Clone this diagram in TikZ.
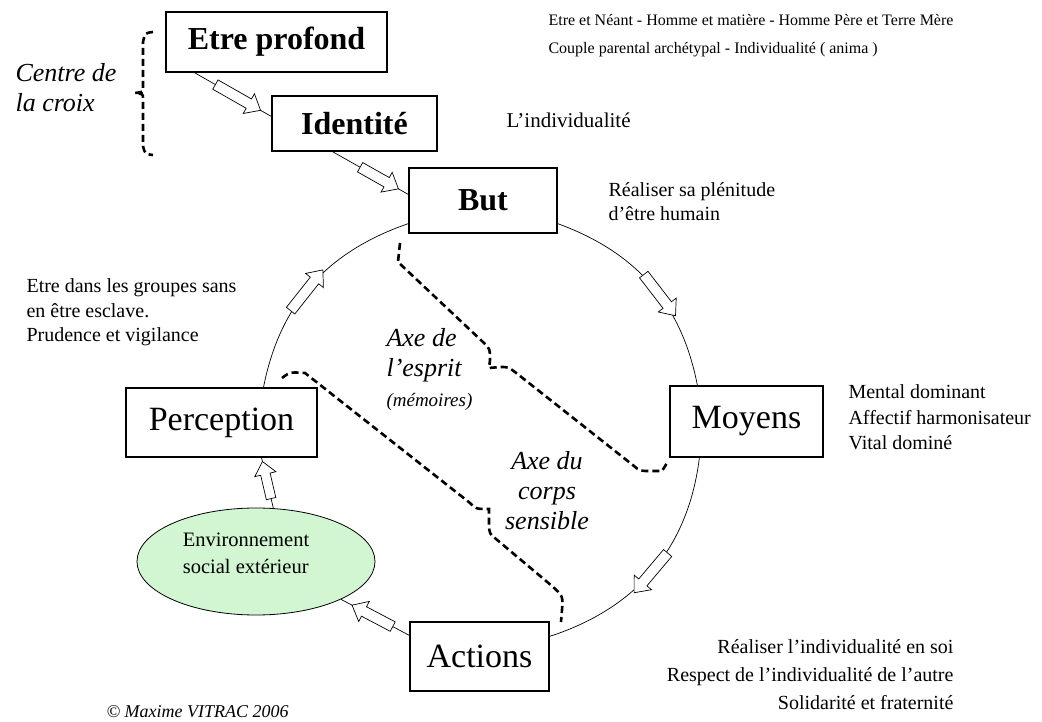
\documentclass[tikz,border=0pt]{standalone}
\usepackage{fontspec}
\setmainfont{Liberation Serif}
\usetikzlibrary{shapes.geometric, shapes.arrows}
\definecolor{vertpale}{RGB}{210,246,210}
\begin{document}
\begin{tikzpicture}[x=1pt, y=1pt,
		boite/.style = {draw, line width=1.2pt, fill=white, inner sep=0pt},
		titre/.style = {boite, font=\fontsize{32}{36}\selectfont\bfseries},
		titrebis/.style = {boite, font=\fontsize{34}{38}\selectfont},
		lien/.style = {line width=0.7pt},
		fleche/.style = {single arrow, draw, line width=0.7pt, fill=white, inner xsep=0pt, inner ysep=5pt, minimum height=52pt, single arrow head extend=6pt, single arrow tip angle=80, sloped, allow upside down},
		accolade/.style = {line width=2.6pt, dash pattern=on 7pt off 4pt},
		note/.style = {align=left, font=\fontsize{20}{25}\selectfont},
		axe/.style = {font=\fontsize{26}{30}\selectfont\itshape}]
		\useasboundingbox (0,0) rectangle (1042,721);
		% boites
		\node[titre, minimum width=221pt, minimum height=60pt] (etre) at (276.5,679) {Etre profond};
		\node[titre, minimum width=165pt, minimum height=55pt] (identite) at (354.5,597.5) {Identité};
		\node[titre, minimum width=148pt, minimum height=65pt] (but) at (483,520.5) {But};
		\node[titrebis, minimum width=153pt, minimum height=71pt] (moyens) at (746.5,299.5) {Moyens};
		\node[titrebis, minimum width=191pt, minimum height=69pt] (perception) at (221.5,298.5) {Perception};
		\node[titrebis, minimum width=139pt, minimum height=69pt] (actions) at (479.5,64.5) {Actions};
		\node[ellipse, draw, line width=0.8pt, fill=vertpale, minimum width=238pt, minimum height=107pt] (env) at (256,159.5) {};
		\node[align=left, font=\fontsize{20.5}{27}\selectfont] (envtexte) at (246,168) {Environnement\\social extérieur};
		% liens et fleches
		\draw[lien] ([xshift=29pt]etre.south west) -- node[fleche, pos=0.53] {} ([yshift=7pt]identite.west);
		\draw[lien] ([xshift=61pt]identite.south west) -- node[fleche, pos=0.58, minimum height=44pt] {} ([yshift=6pt]but.west);
		\draw[lien] ([yshift=10pt]but.south east) to[out=-20, in=101] node[fleche, pos=0.55] {} ([xshift=28pt]moyens.north west);
		\draw[lien] ([xshift=30pt]moyens.south west) to[out=-97, in=18] node[fleche, pos=0.5] {} ([yshift=-15pt]actions.north east);
		\draw[lien] ([yshift=-14pt]actions.north west) -- node[fleche, pos=0.5, minimum height=46pt] {} (env.-24);
		\draw[lien] (env.72) -- node[fleche, pos=0.5, minimum height=38pt, inner ysep=4.5pt] {} ([xshift=40pt]perception.south);
		\draw[lien] ([xshift=42pt]perception.north) to[out=79, in=199] node[fleche, pos=0.45] {} ([yshift=10pt]but.south west);
		% accolades
		\draw[accolade] (153,689) .. controls (145,688) .. (143,679) -- (143,633) .. controls (143,629) .. (135,628) .. controls (143,627) .. (143,623) -- (143,575) .. controls (145,567) .. (153,566);
		\draw[accolade] (400,478) -- (398,459) -- (484,378) .. controls (490,372) .. (490,361) -- (489,353) -- (500,354) .. controls (508,354) .. (515,349) -- (634,255) .. controls (640,250) .. (650,250) -- (662,250) -- (667,258);
		\draw[accolade] (282,343) .. controls (290,349) .. (305,348) -- (470,218) .. controls (476,212) .. (489,212) -- (489,193) .. controls (490,187) .. (496,182) -- (552,135) .. controls (563,125) .. (562,111) -- (561,99);
		% textes
		\node[axe, align=left, anchor=west] (croix) at (12,633) {Centre de\\la croix};
		\node[axe, align=left, anchor=west] (esprit) at (383,351) {Axe de\\l'esprit\\{\fontsize{19}{24}\selectfont(mémoires)}};
		\node[axe, align=center] (corps) at (547,230.5) {Axe du\\corps\\sensible};
		\node[note, font=\fontsize{16}{27.5}\selectfont, anchor=west] (ontologie) at (545,685.5) {Etre et Néant - Homme et matière - Homme Père et Terre Mère\\Couple parental archétypal - Individualité ( anima )};
		\node[note, font=\fontsize{21}{25}\selectfont, anchor=west] (individu) at (503,601) {L'individualité};
		\node[note, font=\fontsize{20}{24}\selectfont, anchor=west] (plenitude) at (605,519) {Réaliser sa plénitude\\d'être humain};
		\node[note, font=\fontsize{20}{24.5}\selectfont, anchor=west] (groupes) at (23,408.5) {Etre dans les groupes sans\\en être esclave.\\Prudence et vigilance};
		\node[note, font=\fontsize{20}{25.5}\selectfont, anchor=west] (facultes) at (845,303.5) {Mental dominant\\Affectif harmonisateur\\Vital dominé};
		\node[note, align=right, font=\fontsize{20}{28}\selectfont, anchor=east] (solidarite) at (957,46) {Réaliser l'individualité en soi\\Respect de l'individualité de l'autre\\Solidarité et fraternité};
		\node[anchor=west, font=\fontsize{18}{20}\selectfont\itshape] (auteur) at (103,9) {© Maxime VITRAC 2006};
	\end{tikzpicture}
\end{document}
